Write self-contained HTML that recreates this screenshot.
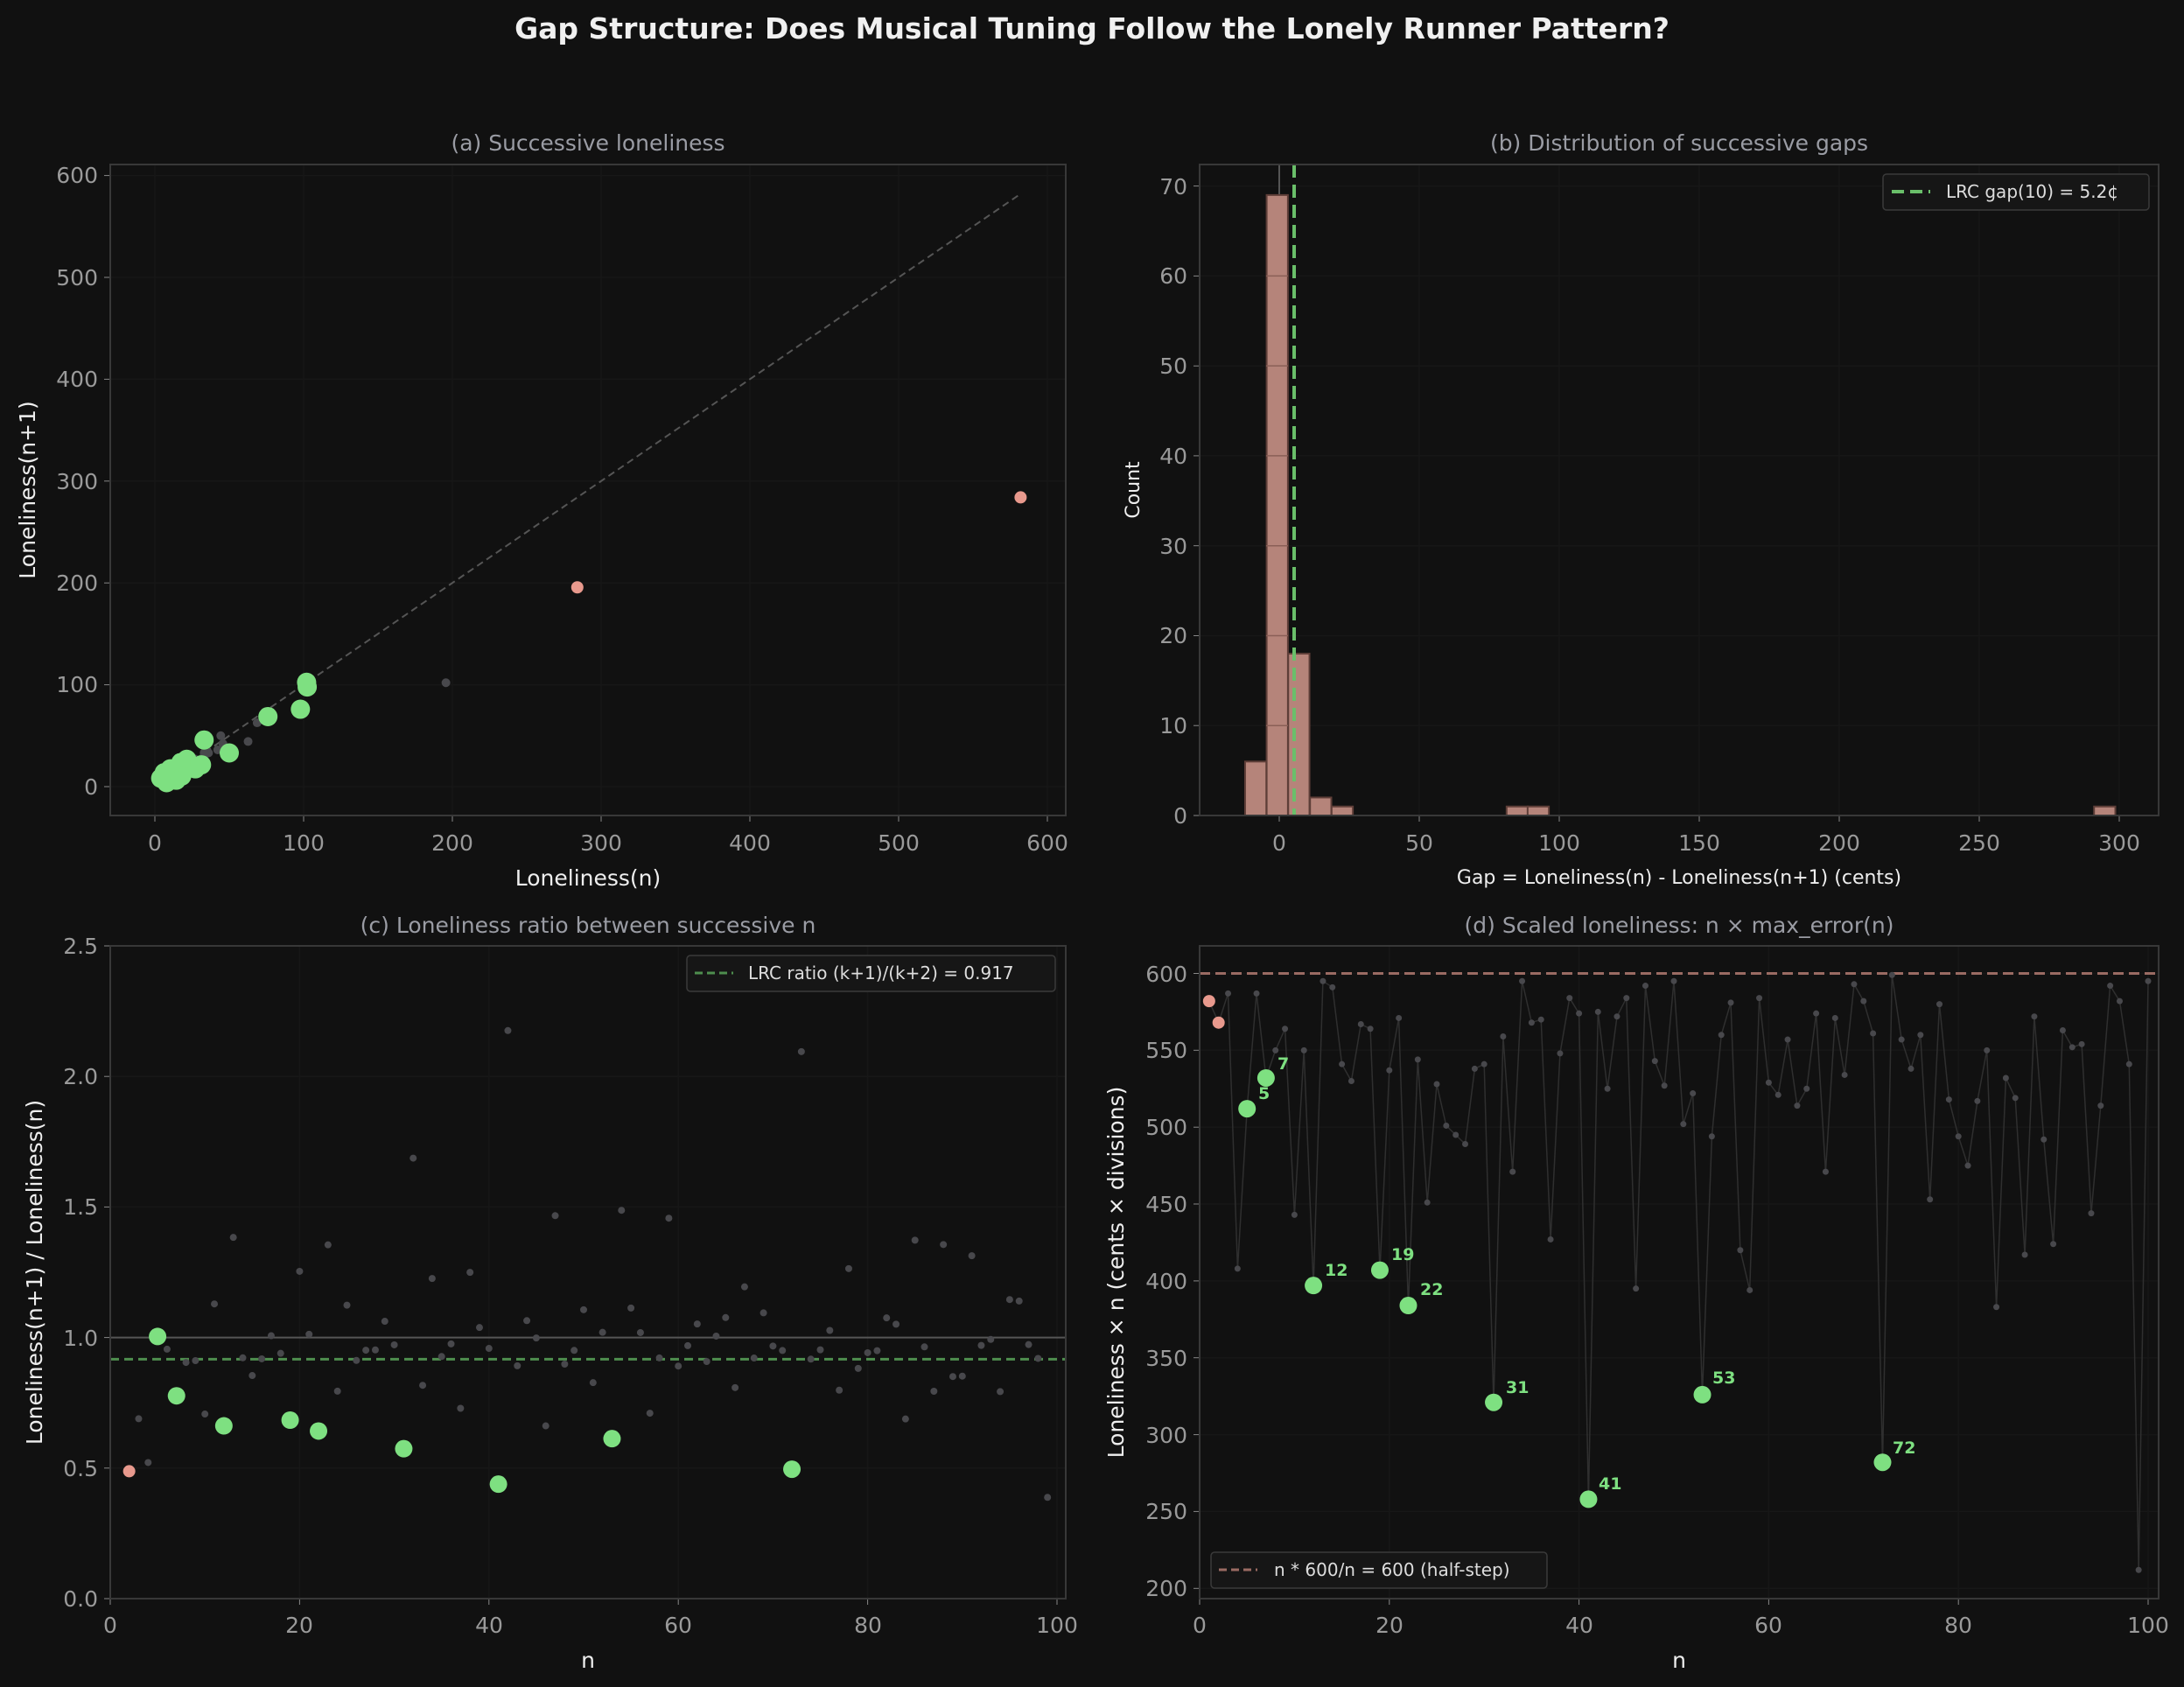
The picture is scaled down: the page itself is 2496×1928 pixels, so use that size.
<!DOCTYPE html>
<html><head><meta charset="utf-8">
<style>
html,body{margin:0;padding:0;background:#111111;}
svg{display:block;}
text{font-family:"DejaVu Sans","Liberation Sans",sans-serif;}
.tk{fill:#9a9a9a;font-size:25px;}
.tl{fill:#eeeeee;font-size:25px;}
.tt{fill:#9a9ca4;font-size:25px;}
.lg{fill:#dddddd;font-size:20px;}
.an{fill:#7ee081;font-size:19px;font-weight:bold;}
</style></head>
<body>
<svg id="s" width="2496" height="1928" xmlns="http://www.w3.org/2000/svg">
<rect width="2496" height="1928" fill="#111111"/>
<text x="1248" y="44" text-anchor="middle" fill="#f0f0f0" style="font-size:33px;font-weight:bold">Gap Structure: Does Musical Tuning Follow the Lonely Runner Pattern?</text>
<g id="grid"></g>
<g id="data"></g>
<g fill="none" stroke="#383838" stroke-width="2">
<rect x="126" y="188" width="1092" height="744"/>
<rect x="1371" y="188" width="1096" height="744"/>
<rect x="126" y="1081" width="1092" height="746"/>
<rect x="1371" y="1081" width="1096" height="746"/>
</g>
<text class="tt" x="672" y="172" text-anchor="middle">(a) Successive loneliness</text>
<text class="tt" x="1919" y="172" text-anchor="middle">(b) Distribution of successive gaps</text>
<text class="tt" x="672" y="1066" text-anchor="middle">(c) Loneliness ratio between successive n</text>
<text class="tt" x="1919" y="1066" text-anchor="middle">(d) Scaled loneliness: n × max_error(n)</text>
<text class="tl" x="672" y="1012" text-anchor="middle">Loneliness(n)</text>
<text class="tl" x="1919" y="1010" text-anchor="middle" style="font-size:22px">Gap = Loneliness(n) - Loneliness(n+1) (cents)</text>
<text class="tl" x="672" y="1906" text-anchor="middle">n</text>
<text class="tl" x="1919" y="1906" text-anchor="middle">n</text>
<text class="tl" transform="translate(40,560) rotate(-90)" text-anchor="middle">Loneliness(n+1)</text>
<text class="tl" transform="translate(1302,560) rotate(-90)" text-anchor="middle" style="font-size:22px">Count</text>
<text class="tl" transform="translate(48,1454) rotate(-90)" text-anchor="middle">Loneliness(n+1) / Loneliness(n)</text>
<text class="tl" transform="translate(1284,1454) rotate(-90)" text-anchor="middle">Loneliness × n (cents × divisions)</text>
<g class="tk" text-anchor="end">
<text x="112" y="908">0</text><text x="112" y="791">100</text><text x="112" y="675">200</text><text x="112" y="559">300</text><text x="112" y="442">400</text><text x="112" y="326">500</text><text x="112" y="209">600</text>
<text x="1357" y="941">0</text><text x="1357" y="838">10</text><text x="1357" y="735">20</text><text x="1357" y="633">30</text><text x="1357" y="530">40</text><text x="1357" y="427">50</text><text x="1357" y="324">60</text><text x="1357" y="222">70</text>
<text x="112" y="1836">0.0</text><text x="112" y="1687">0.5</text><text x="112" y="1538">1.0</text><text x="112" y="1388">1.5</text><text x="112" y="1239">2.0</text><text x="112" y="1090">2.5</text>
<text x="1357" y="1824">200</text><text x="1357" y="1736">250</text><text x="1357" y="1649">300</text><text x="1357" y="1561">350</text><text x="1357" y="1473">400</text><text x="1357" y="1385">450</text><text x="1357" y="1297">500</text><text x="1357" y="1209">550</text><text x="1357" y="1122">600</text>
</g>
<g class="tk" text-anchor="middle">
<text x="177" y="972">0</text><text x="347" y="972">100</text><text x="517" y="972">200</text><text x="687" y="972">300</text><text x="857" y="972">400</text><text x="1027" y="972">500</text><text x="1197" y="972">600</text>
<text x="1462" y="972">0</text><text x="1622" y="972">50</text><text x="1782" y="972">100</text><text x="1942" y="972">150</text><text x="2102" y="972">200</text><text x="2262" y="972">250</text><text x="2422" y="972">300</text>
<text x="126" y="1866">0</text><text x="342" y="1866">20</text><text x="559" y="1866">40</text><text x="775" y="1866">60</text><text x="992" y="1866">80</text><text x="1208" y="1866">100</text>
<text x="1371" y="1866">0</text><text x="1588" y="1866">20</text><text x="1805" y="1866">40</text><text x="2021" y="1866">60</text><text x="2238" y="1866">80</text><text x="2455" y="1866">100</text>
</g>
<rect x="2152" y="199" width="304" height="41" rx="4" fill="#161616" stroke="#3a3a3a" stroke-width="1.5"/>
<line x1="2162" y1="219" x2="2206" y2="219" stroke="#6abf6a" stroke-width="4" stroke-dasharray="14,7"/>
<text class="lg" x="2224" y="226">LRC gap(10) = 5.2¢</text>
<rect x="785" y="1092" width="421" height="41" rx="4" fill="#161616" stroke="#3a3a3a" stroke-width="1.5"/>
<line x1="794" y1="1112" x2="838" y2="1112" stroke="#4e8e4e" stroke-width="3" stroke-dasharray="9,5"/>
<text class="lg" x="855" y="1119">LRC ratio (k+1)/(k+2) = 0.917</text>
<rect x="1384" y="1774" width="384" height="41" rx="4" fill="#161616" stroke="#3a3a3a" stroke-width="1.5"/>
<line x1="1393" y1="1794" x2="1437" y2="1794" stroke="#9a6b63" stroke-width="3" stroke-dasharray="9,5"/>
<text class="lg" x="1456" y="1801">n * 600/n = 600 (half-step)</text>
<g class="an">
<text x="1438" y="1256">5</text>
<text x="1460" y="1222">7</text>
<text x="1514" y="1458">12</text>
<text x="1590" y="1440">19</text>
<text x="1623" y="1480">22</text>
<text x="1721" y="1592">31</text>
<text x="1827" y="1702">41</text>
<text x="1957" y="1581">53</text>
<text x="2163" y="1661">72</text>
</g>
</svg>
<script>
var NS="http://www.w3.org/2000/svg";
function el(p,t,a){var e=document.createElementNS(NS,t);for(var k in a)e.setAttribute(k,a[k]);document.getElementById(p).appendChild(e);return e;}
var S=[0,582,568,587,408,512,587,532,550,564,443,550,397,595,591,541,530,567,564,407,537,571,384,544,451,528,501,495,489,538,541,321,559,471,595,568,570,427,548,584,574,258,575,525,572,584,395,592,543,527,595,502,522,326,494,560,581,420,394,584,529,521,557,514,525,574,471,571,534,593,582,561,282,599,557,538,560,453,580,518,494,475,517,550,383,532,519,417,572,492,424,563,552,554,444,514,592,582,541,212,595];
var L=S.map(function(v,i){return i?v/i:0;});
var SP={5:1,7:1,12:1,19:1,22:1,31:1,41:1,53:1,72:1};
var G="#7ee081",R="#e8998d",D="#48484c",GR="#171717";
function hl(x1,x2,y){el("grid","line",{x1:x1,x2:x2,y1:y,y2:y,stroke:GR,"stroke-width":1.5});}
function vl(x,y1,y2){el("grid","line",{x1:x,x2:x,y1:y1,y2:y2,stroke:GR,"stroke-width":1.5});}
[899,782.6,666.2,549.8,433.4,317,200.6].forEach(function(y){hl(126,1218,y);el("grid","line",{x1:119,x2:126,y1:y,y2:y,stroke:"#888"});});
[177,347,517,687,857,1027,1197].forEach(function(x){vl(x,188,932);el("grid","line",{x1:x,x2:x,y1:932,y2:939,stroke:"#888"});});
[932,829.2,726.5,623.7,520.9,418.2,315.4,212.6].forEach(function(y){hl(1371,2467,y);el("grid","line",{x1:1364,x2:1371,y1:y,y2:y,stroke:"#888"});});
[1462,1622,1782,1942,2102,2262,2422].forEach(function(x){vl(x,188,932);el("grid","line",{x1:x,x2:x,y1:932,y2:939,stroke:"#888"});});
[1827,1677.8,1528.6,1379.4,1230.2,1081].forEach(function(y){hl(126,1218,y);el("grid","line",{x1:119,x2:126,y1:y,y2:y,stroke:"#888"});});
[126,342.4,558.8,775.2,991.6,1208].forEach(function(x){vl(x,1081,1827);el("grid","line",{x1:x,x2:x,y1:1827,y2:1834,stroke:"#888"});});
[1815.3,1727.4,1639.6,1551.7,1463.9,1376,1288.2,1200.3,1112.5].forEach(function(y){hl(1371,2467,y);el("grid","line",{x1:1364,x2:1371,y1:y,y2:y,stroke:"#888"});});
[1371,1587.8,1804.6,2021.4,2238.2,2455].forEach(function(x){vl(x,1081,1827);el("grid","line",{x1:x,x2:x,y1:1827,y2:1834,stroke:"#888"});});
function ax(v){return 177+1.7*v;} function ay(v){return 899-1.164*v;}
el("data","line",{x1:ax(2.1),y1:ay(2.1),x2:ax(582),y2:ay(582),stroke:"#555","stroke-width":2,"stroke-dasharray":"8,5"});
var la=[],lg=[],lr=[];
for(var n=1;n<100;n++){var p=[ax(L[n]),ay(L[n+1])];
 if(n<=2)lr.push(p);else if(SP[n]||SP[n+1])lg.push(p);else la.push(p);}
la.forEach(function(p){el("data","circle",{cx:p[0],cy:p[1],r:5,fill:D});});
lg.forEach(function(p){el("data","circle",{cx:p[0],cy:p[1],r:11,fill:G});});
lr.forEach(function(p){el("data","circle",{cx:p[0],cy:p[1],r:7,fill:R});});
function bx(v){return 1462+3.2*v;} function by(c){return 932-10.277*c;}
el("data","line",{x1:1462,x2:1462,y1:188,y2:932,stroke:"#555","stroke-width":2});
[[-12.2,6],[-4.5,69],[3.2,18],[11,2],[18.7,1],[81.2,1],[88.7,1],[291,1]].forEach(function(b){
 el("data","rect",{x:bx(b[0]),y:by(b[1]),width:24.3,height:932-by(b[1]),fill:"#b5847a",stroke:"#5e3e38","stroke-width":2});});
for(var c=10;c<=60;c+=10)el("data","line",{x1:1447,x2:1472,y1:by(c),y2:by(c),stroke:"#8a5f57","stroke-width":1.5});
el("data","line",{x1:1479,x2:1479,y1:188,y2:932,stroke:"#6abf6a","stroke-width":4,"stroke-dasharray":"15,8"});
function cx(n){return 126+10.82*n;} function cy(r){return 1827-298.4*r;}
el("data","line",{x1:126,x2:1218,y1:cy(1),y2:cy(1),stroke:"#555","stroke-width":2});
el("data","line",{x1:126,x2:1218,y1:cy(0.917),y2:cy(0.917),stroke:"#4e8e4e","stroke-width":3,"stroke-dasharray":"10,6"});
for(var n=2;n<=99;n++){var r=L[n]/L[n-1];
 if(n==2)el("data","circle",{cx:cx(n),cy:cy(r),r:7,fill:R});
 else if(SP[n])el("data","circle",{cx:cx(n),cy:cy(r),r:10,fill:G});
 else el("data","circle",{cx:cx(n),cy:cy(r),r:4,fill:D});}
function dx(n){return 1371+10.84*n;} function dy(v){return 1112.5-1.757*(v-600);}
el("data","line",{x1:1371,x2:2467,y1:dy(600),y2:dy(600),stroke:"#9a6b63","stroke-width":3,"stroke-dasharray":"12,6"});
var pts=[];for(var n=1;n<=100;n++)pts.push(dx(n).toFixed(1)+","+dy(S[n]).toFixed(1));
el("data","polyline",{points:pts.join(" "),fill:"none",stroke:"#2f2f2f","stroke-width":1.5});
for(var n=1;n<=100;n++){
 if(n<=2)el("data","circle",{cx:dx(n),cy:dy(S[n]),r:7,fill:R});
 else if(SP[n])el("data","circle",{cx:dx(n),cy:dy(S[n]),r:10,fill:G});
 else el("data","circle",{cx:dx(n),cy:dy(S[n]),r:3.5,fill:D});}
</script>
</body></html>
